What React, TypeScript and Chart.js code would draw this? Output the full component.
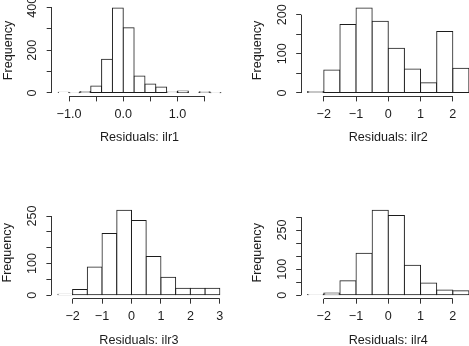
import { useEffect, useRef } from 'react';
import { Chart, registerables } from 'chart.js';

Chart.register(...registerables);

// ---- Residual histograms: bin breaks and counts -------------------------

const ILR1_BREAKS = [-1.2, -1.0, -0.8, -0.6, -0.4, -0.2, 0.0, 0.2, 0.4, 0.6, 0.8, 1.0, 1.2, 1.4, 1.6, 1.8];
const ILR1_COUNTS = [3, 1, 7, 33, 158, 397, 305, 79, 42, 28, 5, 9, 2, 6, 1];
const ILR1_X_TICKS = [-1.0, -0.5, 0.0, 0.5, 1.0, 1.5];
const ILR1_X_LABELS = ['−1.0', '', '0.0', '', '1.0', ''];
const ILR1_Y_TICKS = [0, 100, 200, 300, 400];
const ILR1_Y_LABELS = ['0', '', '200', '', '400'];

const ILR2_BREAKS = [-2.5, -2.0, -1.5, -1.0, -0.5, 0.0, 0.5, 1.0, 1.5, 2.0, 2.5];
const ILR2_COUNTS = [4, 59, 175, 217, 183, 114, 61, 26, 157, 63];
const ILR2_X_TICKS = [-2, -1, 0, 1, 2];
const ILR2_X_LABELS = ['−2', '−1', '0', '1', '2'];
const ILR2_Y_TICKS = [0, 50, 100, 150, 200];
const ILR2_Y_LABELS = ['0', '', '100', '', '200'];

const ILR3_BREAKS = [-2.5, -2.0, -1.5, -1.0, -0.5, 0.0, 0.5, 1.0, 1.5, 2.0, 2.5, 3.0];
const ILR3_COUNTS = [3, 18, 89, 195, 268, 236, 122, 57, 22, 22, 22];
const ILR3_X_TICKS = [-2, -1, 0, 1, 2, 3];
const ILR3_X_LABELS = ['−2', '−1', '0', '1', '2', '3'];
const ILR3_Y_TICKS = [0, 50, 100, 150, 200, 250];
const ILR3_Y_LABELS = ['0', '', '100', '', '', '250'];

const ILR4_BREAKS = [-2.5, -2.0, -1.5, -1.0, -0.5, 0.0, 0.5, 1.0, 1.5, 2.0, 2.5];
const ILR4_COUNTS = [3, 9, 56, 161, 326, 306, 115, 47, 20, 17];
const ILR4_X_TICKS = [-2, -1, 0, 1, 2];
const ILR4_X_LABELS = ['−2', '−1', '0', '1', '2'];
const ILR4_Y_TICKS = [0, 50, 100, 150, 200, 250, 300];
const ILR4_Y_LABELS = ['0', '', '100', '', '', '250', ''];

// ---- Layout -------------------------------------------------------------

const CANVAS_W = 490;
const CANVAS_H = 360;
const Y_AXIS_W = 51;
const X_AXIS_H = 49;
const Y_LABEL_OFFSET = 18.8;
const INK = '#1c1c1c';
const AXIS_INK = '#333333';
const FONT = { family: '"Liberation Sans", Arial, Helvetica, sans-serif', size: 12.6 };

type Box = { left: number; right: number; top: number; bottom: number };

type PanelProps = {
  box: Box;
  title: string;
  breaks: number[];
  counts: number[];
  xTicks: number[];
  xLabels: string[];
  yTicks: number[];
  yLabels: string[];
};

const align = (p: number) => Math.round(p - 0.5) + 0.5;

// Base-graphics style axes: the axis line runs only from the first to the
// last tick, and y tick labels are written parallel to the axis.
const baseAxesPlugin = {
  id: 'baseAxes',
  afterDraw(chart: any) {
    const { ctx, chartArea } = chart;
    const xs = chart.scales.x;
    const ys = chart.scales.y;
    const yLabels: string[] = chart.options.plugins.baseAxes.yLabels;
    ctx.save();
    ctx.strokeStyle = AXIS_INK;
    ctx.lineWidth = 1;

    const xt = xs.ticks.map((t: any) => t.value);
    const yb = align(chartArea.bottom);
    ctx.beginPath();
    ctx.moveTo(xs.getPixelForValue(xt[0]), yb);
    ctx.lineTo(xs.getPixelForValue(xt[xt.length - 1]), yb);
    ctx.stroke();

    const yt = ys.ticks.map((t: any) => t.value);
    const xl = align(chartArea.left);
    ctx.beginPath();
    ctx.moveTo(xl, ys.getPixelForValue(yt[0]));
    ctx.lineTo(xl, ys.getPixelForValue(yt[yt.length - 1]));
    ctx.stroke();

    ctx.fillStyle = INK;
    ctx.font = `${FONT.size}px ${FONT.family}`;
    ctx.textAlign = 'center';
    ctx.textBaseline = 'middle';
    yt.forEach((v: number, i: number) => {
      const label = yLabels[i];
      if (!label) return;
      ctx.save();
      ctx.translate(chartArea.left - Y_LABEL_OFFSET, ys.getPixelForValue(v));
      ctx.rotate(-Math.PI / 2);
      ctx.fillText(label, 0, 0);
      ctx.restore();
    });
    ctx.restore();
  },
};

function HistPanel({ box, title, breaks, counts, xTicks, xLabels, yTicks, yLabels }: PanelProps) {
  const ref = useRef<HTMLCanvasElement | null>(null);

  useEffect(() => {
    if (!ref.current) return;
    const points = counts.map((c, i) => ({ x: (breaks[i] + breaks[i + 1]) / 2, y: c }));
    const xLo = breaks[0];
    const xHi = breaks[breaks.length - 1];
    const xPad = (xHi - xLo) * 0.04;
    const yHi = Math.max(...counts);
    const yPad = yHi * 0.04;

    const chart = new Chart(ref.current, {
      type: 'bar',
      data: {
        datasets: [
          {
            data: points,
            backgroundColor: '#ffffff',
            borderColor: INK,
            borderWidth: 1,
            borderSkipped: false,
            inflateAmount: 0.5,
            barPercentage: 1,
            categoryPercentage: 1,
            grouped: false,
          } as any,
        ],
      },
      options: {
        animation: false,
        responsive: false,
        maintainAspectRatio: false,
        events: [],
        layout: {
          padding: {
            left: box.left - Y_AXIS_W,
            top: box.top,
            right: CANVAS_W - box.right,
            bottom: CANVAS_H - box.bottom - X_AXIS_H,
          },
        },
        plugins: {
          legend: { display: false },
          tooltip: { enabled: false },
          baseAxes: { yLabels },
        } as any,
        scales: {
          x: {
            type: 'linear',
            min: xLo - xPad,
            max: xHi + xPad,
            offset: false,
            afterBuildTicks: (s: any) => {
              s.ticks = xTicks.map((v) => ({ value: v }));
            },
            afterFit: (s: any) => {
              s.height = X_AXIS_H;
            },
            grid: {
              display: true,
              drawOnChartArea: false,
              drawTicks: true,
              tickLength: 5,
              color: AXIS_INK,
              lineWidth: 1,
              offset: false,
            },
            border: { display: false },
            ticks: {
              autoSkip: false,
              maxRotation: 0,
              minRotation: 0,
              padding: 5.4,
              color: INK,
              font: FONT,
              callback: (_v: any, i: number) => xLabels[i],
            },
            title: { display: true, text: title, color: INK, font: FONT, padding: 0 },
          },
          y: {
            type: 'linear',
            min: -yPad,
            max: yHi + yPad,
            afterBuildTicks: (s: any) => {
              s.ticks = yTicks.map((v) => ({ value: v }));
            },
            afterFit: (s: any) => {
              s.width = Y_AXIS_W;
            },
            grid: {
              display: true,
              drawOnChartArea: false,
              drawTicks: true,
              tickLength: 5,
              color: AXIS_INK,
              lineWidth: 1,
            },
            border: { display: false },
            ticks: { display: false },
            title: { display: true, text: 'Frequency', color: INK, font: FONT, padding: 0 },
          },
        } as any,
      },
      plugins: [baseAxesPlugin],
    });
    return () => chart.destroy();
  }, [box, title, breaks, counts, xTicks, xLabels, yTicks, yLabels]);

  return (
    <canvas
      ref={ref}
      width={CANVAS_W}
      height={CANVAS_H}
      style={{ position: 'absolute', left: 0, top: 0, width: CANVAS_W, height: CANVAS_H, display: 'block' }}
    />
  );
}

const BOX_1: Box = { left: 51.7, right: 227.4, top: 4.6, bottom: 96.4 };
const BOX_2: Box = { left: 301.2, right: 475.4, top: 4.6, bottom: 96.4 };
const BOX_3: Box = { left: 51.4, right: 226.3, top: 206.9, bottom: 298.7 };
const BOX_4: Box = { left: 301.2, right: 475.4, top: 206.9, bottom: 298.7 };

export default function App() {
  return (
    <div
      style={{
        position: 'absolute',
        left: 0,
        top: 0,
        width: 469,
        height: 346,
        overflow: 'hidden',
        background: '#ffffff',
      }}
    >
      <HistPanel box={BOX_1} title="Residuals: ilr1" breaks={ILR1_BREAKS} counts={ILR1_COUNTS}
        xTicks={ILR1_X_TICKS} xLabels={ILR1_X_LABELS} yTicks={ILR1_Y_TICKS} yLabels={ILR1_Y_LABELS} />
      <HistPanel box={BOX_2} title="Residuals: ilr2" breaks={ILR2_BREAKS} counts={ILR2_COUNTS}
        xTicks={ILR2_X_TICKS} xLabels={ILR2_X_LABELS} yTicks={ILR2_Y_TICKS} yLabels={ILR2_Y_LABELS} />
      <HistPanel box={BOX_3} title="Residuals: ilr3" breaks={ILR3_BREAKS} counts={ILR3_COUNTS}
        xTicks={ILR3_X_TICKS} xLabels={ILR3_X_LABELS} yTicks={ILR3_Y_TICKS} yLabels={ILR3_Y_LABELS} />
      <HistPanel box={BOX_4} title="Residuals: ilr4" breaks={ILR4_BREAKS} counts={ILR4_COUNTS}
        xTicks={ILR4_X_TICKS} xLabels={ILR4_X_LABELS} yTicks={ILR4_Y_TICKS} yLabels={ILR4_Y_LABELS} />
    </div>
  );
}
